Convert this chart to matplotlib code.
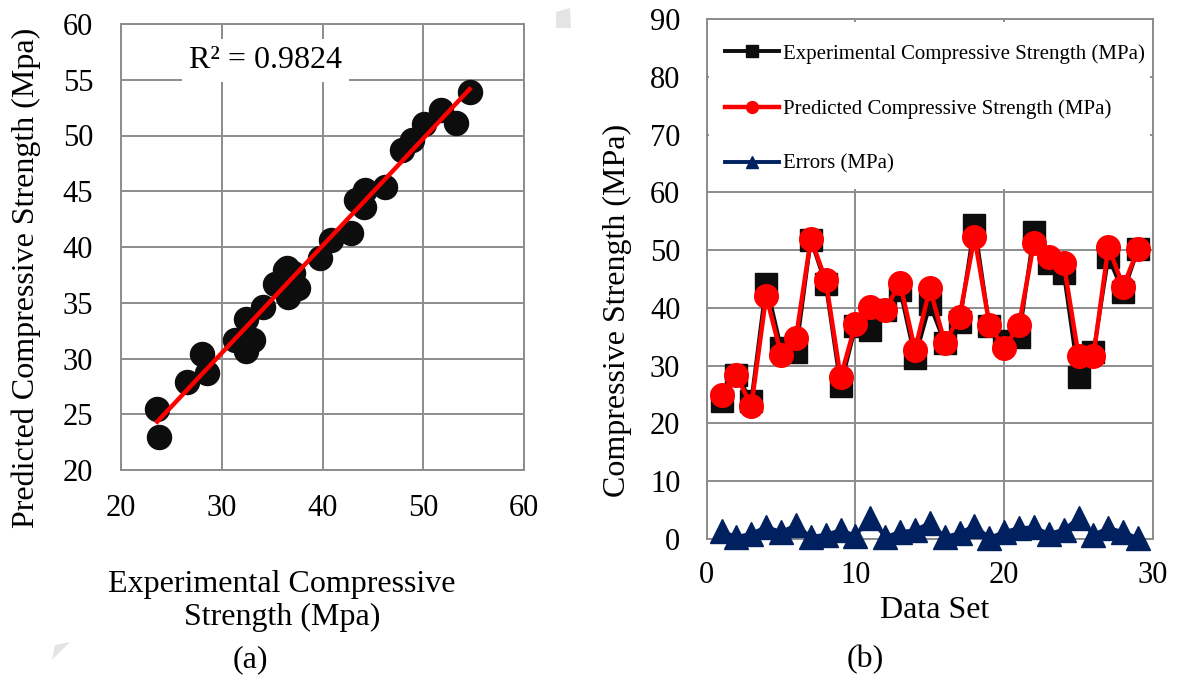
import numpy as np
import matplotlib
matplotlib.use("Agg")
import matplotlib.pyplot as plt
from matplotlib.patches import Rectangle, Polygon

plt.rcParams['font.family'] = ['Liberation Serif', 'DejaVu Serif']

# (a) experimental vs predicted
exp_a = [23.8, 23.6, 26.6, 28.0, 28.5, 31.3, 32.4, 33.1, 32.4, 34.1, 35.3, 36.5, 37.1, 37.6, 36.6,
         36.3, 39.8, 40.8, 42.8, 43.3, 44.2, 44.1, 46.2, 47.9, 48.9, 50.1, 51.8, 53.3, 54.6]
pred_a = [23.0, 25.5, 27.9, 30.4, 28.7, 31.7, 33.5, 31.7, 30.7, 34.6, 36.7, 38.1, 37.7, 36.3, 35.5,
          37.9, 39.0, 40.6, 41.3, 44.2, 45.1, 43.6, 45.4, 48.7, 49.6, 51.0, 52.3, 51.1, 53.9]
r2_label = "R² = 0.9824"

# (b) data set series
data_set = list(range(1, 30))
experimental = [23.8, 28.4, 23.9, 44.1, 33.0, 32.4, 51.8, 44.1, 26.5, 36.8, 36.2, 39.7, 43.1, 31.3, 40.6,
                33.9, 37.5, 54.4, 36.9, 34.2, 35.0, 53.2, 47.8, 46.1, 28.0, 32.3, 48.8, 42.7, 50.2]
predicted = [25.0, 28.3, 23.0, 42.1, 31.9, 34.8, 52.0, 44.8, 28.0, 37.2, 40.1, 39.7, 44.3, 32.7, 43.4,
             34.0, 38.5, 52.3, 37.1, 33.0, 37.1, 51.3, 48.8, 47.7, 31.6, 31.7, 50.6, 43.7, 50.2]
errors = [1.3, 0.35, 0.9, 2.1, 1.2, 2.4, 0.35, 0.75, 1.5, 0.6, 3.7, 0.35, 1.2, 1.5, 2.8,
          0.35, 1.0, 2.3, 0.2, 1.2, 1.9, 2.0, 0.9, 1.6, 3.6, 0.75, 1.9, 1.2, 0.1]

grid_c = '#8c8c8c'
navy = '#002060'
tick_fs = 22
lab_fs = 23

fig = plt.figure(figsize=(11.79, 6.8), dpi=100)

# ---- (a) ----
ax1 = fig.add_axes([121/1179, 1-470/680, 403/1179, 446/680])
ax1.scatter(exp_a, pred_a, s=300, color='#0d0d0d', zorder=3)
k, b = np.polyfit(exp_a, pred_a, 1)
xs = np.array([min(exp_a), max(exp_a)])
ax1.plot(xs, k*xs + b, color='#ff0000', lw=3.2, zorder=4)
ax1.set_xlim(20, 60)
ax1.set_ylim(20, 60)
ax1.set_xticks(range(20, 61, 10))
ax1.set_yticks(range(20, 61, 5))
ax1.grid(True, color=grid_c, lw=1.4)
ax1.set_axisbelow(True)
for s in ax1.spines.values():
    s.set_color(grid_c)
    s.set_linewidth(1.4)
ax1.tick_params(length=0, labelsize=tick_fs)
ax1.tick_params(axis='x', pad=17)
ax1.tick_params(axis='y', pad=20)
ax1.text(34.3, 56.7, r2_label, fontsize=23, ha='center', va='center', zorder=5,
         bbox=dict(facecolor='white', edgecolor='none', pad=5))
fig.text(26/1179, 1-278/680, 'Predicted Compressive Strength (Mpa)', fontsize=lab_fs,
         rotation=90, ha='center', va='center')
fig.text(282/1179, 1-601/680, 'Experimental Compressive\nStrength (Mpa)', fontsize=lab_fs,
         ha='center', va='center', multialignment='center', linespacing=1.15)
fig.text(250/1179, 1-660/680, '(a)', fontsize=lab_fs, ha='center', va='center')

# ---- (b) ----
ax2 = fig.add_axes([706.7/1179, 1-539/680, 446.3/1179, 520/680])
ax2.plot(data_set, experimental, color='#0d0d0d', lw=2.8, marker='s', ms=16,
         label='Experimental Compressive Strength (MPa)', zorder=3)
ax2.plot(data_set, predicted, color='#ff0000', lw=3.2, marker='o', ms=17,
         label='Predicted Compressive Strength (MPa)', zorder=4)
ax2.plot(data_set, errors, color=navy, lw=2.8, marker='^', ms=17,
         label='Errors (MPa)', zorder=5, clip_on=False)
ax2.set_xlim(0, 30)
ax2.set_ylim(0, 90)
ax2.set_xticks(range(0, 31, 10))
ax2.set_yticks(range(0, 91, 10))
ax2.grid(True, color=grid_c, lw=1.4)
ax2.set_axisbelow(True)
for s in ax2.spines.values():
    s.set_color(grid_c)
    s.set_linewidth(1.4)
ax2.tick_params(length=0, labelsize=tick_fs)
ax2.tick_params(axis='x', pad=16)
ax2.tick_params(axis='y', pad=19)
fig.text(617/1179, 1-310/680, 'Compressive Strength (MPa)', fontsize=lab_fs,
         rotation=90, ha='center', va='center')
fig.text(935/1179, 1-610/680, 'Data Set', fontsize=lab_fs, ha='center', va='center')
fig.text(865/1179, 1-660/680, '(b)', fontsize=lab_fs, ha='center', va='center')

ax2.add_patch(Rectangle((0.006, 0.673), 0.988, 0.322, transform=ax2.transAxes,
                        facecolor='white', edgecolor='none', zorder=6))
leg = ax2.legend(loc='upper left', bbox_to_anchor=(0.0, 0.988), frameon=False,
                 fontsize=15, handlelength=2.55, handletextpad=0.2, labelspacing=1.7,
                 markerscale=0.5)
leg.set_zorder(7)

# small gray page marks
fig.patches.append(Polygon([[556/1179, 1-12/680], [570/1179, 1-8/680], [571/1179, 1-28/680],
                            [556/1179, 1-28/680]], closed=True, transform=fig.transFigure,
                           facecolor='#e4e4e4', edgecolor='none'))
fig.patches.append(Polygon([[52/1179, 1-660/680], [70/1179, 1-642/680], [55/1179, 1-645/680]],
                           closed=True, transform=fig.transFigure, facecolor='#e4e4e4',
                           edgecolor='none'))

fig.savefig('out.png', dpi=100)
